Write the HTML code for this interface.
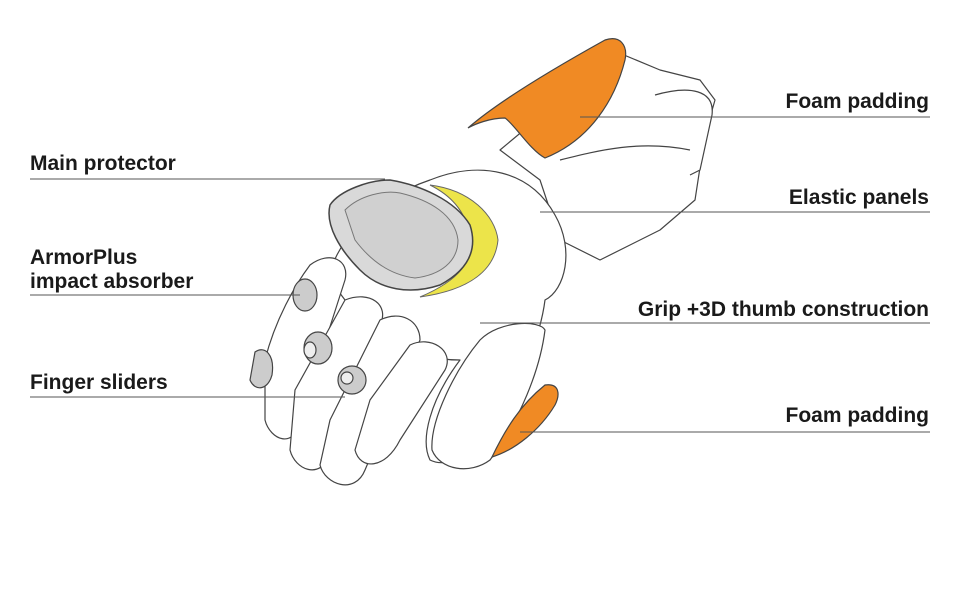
<!DOCTYPE html>
<html><head><style>
body{margin:0;background:#fff;}
svg{display:block;}
text{font-family:"Liberation Sans",sans-serif;font-weight:bold;font-size:21px;fill:#1a1a1a;}
</style></head><body>
<svg width="970" height="600" viewBox="0 0 970 600">
<g fill="#fff" stroke="#444" stroke-width="1.2" stroke-linejoin="round">
<!-- cuff -->
<path d="M600 45 L660 70 L700 80 L715 100 L705 135 L695 200 L660 230 L600 260 L560 240 L540 180 L500 150 L560 100 Z"/>
<path d="M655 95 C690 85 715 90 712 115 L700 170 L690 175"/>
<path d="M560 160 C600 150 640 140 690 150"/>
<!-- hand body -->
<path d="M430 180 C480 160 530 170 555 215 C575 250 565 290 545 300 C540 340 520 380 500 420 C480 450 450 470 430 460 C420 440 430 400 460 360 C430 360 400 350 380 340 L360 320 L330 280 C330 250 370 200 430 180 Z"/>
<!-- thumb -->
<path d="M480 340 C500 320 540 320 545 330 C540 370 520 420 490 460 C470 475 440 470 432 450 C430 420 455 370 480 340 Z"/>
<!-- fingers -->
<path d="M310 265 C330 250 350 260 345 280 L300 420 C295 450 270 440 265 420 L265 360 C275 320 295 285 310 265 Z"/>
<path d="M345 300 C370 290 390 305 380 325 L330 455 C320 480 295 470 290 450 L295 390 Z"/>
<path d="M380 320 C400 310 420 320 420 340 L365 470 C355 495 325 485 320 465 L330 420 Z"/>
<path d="M410 345 C430 335 455 350 445 370 L400 440 C385 470 360 470 355 450 L370 400 Z"/>
<!-- sliders -->
<path d="M255 352 C265 345 275 355 272 375 C268 390 255 392 250 380 Z" fill="#ccc"/>
<ellipse cx="305" cy="295" rx="12" ry="16" fill="#ccc"/>
<ellipse cx="318" cy="348" rx="14" ry="16" fill="#ccc"/>
<ellipse cx="352" cy="380" rx="14" ry="14" fill="#ccc"/>
<ellipse cx="310" cy="350" rx="6" ry="8" fill="#eee"/>
<ellipse cx="347" cy="378" rx="6" ry="6" fill="#eee"/>
</g>
<!-- yellow elastic -->
<path d="M430 185 C470 190 495 215 498 240 C495 270 470 290 420 297 C460 280 475 260 470 235 C465 210 450 195 430 185 Z" fill="#ece44a" stroke="#666" stroke-width="1"/>
<!-- main protector -->
<path d="M330 205 C340 190 370 180 390 180 C420 185 455 200 470 225 C478 250 468 270 440 285 C410 295 380 290 360 270 C340 250 325 225 330 205 Z" fill="#d9d9d9" stroke="#444" stroke-width="1.5"/>
<path d="M345 210 C360 195 385 190 400 193 C430 200 455 215 458 240 C458 262 440 275 415 278 C390 275 370 260 355 240 Z" fill="#d0d0d0" stroke="#777" stroke-width="1"/>
<!-- foam padding top -->
<path d="M468 128 C500 100 560 65 605 40 C620 35 628 45 625 60 C615 100 590 140 545 158 C530 150 515 125 505 118 C490 118 475 124 468 128 Z" fill="#f08a24" stroke="#444" stroke-width="1.2"/>
<!-- foam padding bottom -->
<path d="M492 457 C505 430 520 405 545 385 C560 383 560 395 555 405 C540 430 515 450 492 457 Z" fill="#f08a24" stroke="#444" stroke-width="1.2"/>
<!-- leader lines -->
<g stroke="#555" stroke-width="1" fill="none">
<line x1="580" y1="117" x2="930" y2="117"/>
<line x1="30" y1="179" x2="385" y2="179"/>
<line x1="540" y1="212" x2="930" y2="212"/>
<line x1="30" y1="295" x2="300" y2="295"/>
<line x1="480" y1="323" x2="930" y2="323"/>
<line x1="30" y1="397" x2="345" y2="397"/>
<line x1="520" y1="432" x2="930" y2="432"/>
</g>
<text x="929" y="108" text-anchor="end">Foam padding</text>
<text x="30" y="170">Main protector</text>
<text x="929" y="204" text-anchor="end">Elastic panels</text>
<text x="30" y="264">ArmorPlus</text>
<text x="30" y="288">impact absorber</text>
<text x="929" y="316" text-anchor="end">Grip +3D thumb construction</text>
<text x="30" y="389">Finger sliders</text>
<text x="929" y="422" text-anchor="end">Foam padding</text>
</svg>
</body></html>
